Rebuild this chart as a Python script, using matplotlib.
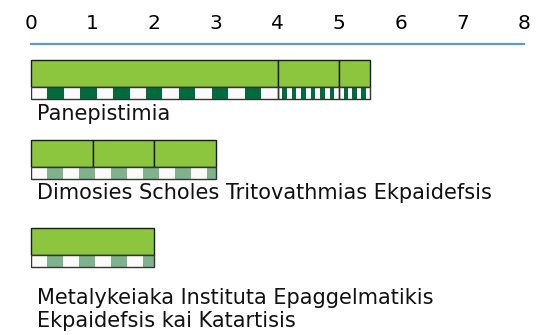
import numpy as np
import matplotlib.pyplot as plt

# Данные: названия и длины сегментов полос
categories = ['Panepistimia',
              'Dimosies Scholes Tritovathmias Ekpaidefsis',
              'Metalykeiaka Instituta Epaggelmatikis\nEkpaidefsis kai Katartisis']
segments = [[4, 1, 0.5], [1, 1, 1], [2]]
# число клеток полосатой ленты в каждом сегменте (None = общая ширина клетки)
strip_cells = [[15, 13, 7], None, None]
strip_cell_width = 0.26
strip_colors = ['#006b3c', '#7fb38e', '#7fb38e']
ticks = [0, 1, 2, 3, 4, 5, 6, 7, 8]

# вертикальная разметка (в пикселях от верха)
bar_tops = [60, 140, 228]
green_h = 27
strip_h = 12
label_y = [114, 193, 309.5]

fig = plt.figure(figsize=(5.46, 3.35), dpi=100)
ax = fig.add_axes([31 / 546, 0, 493 / 546, (335 - 44) / 335])
ax.set_xlim(0, 8)
ax.set_ylim(335, 44)

for s in ['left', 'right', 'bottom']:
    ax.spines[s].set_visible(False)
ax.spines['top'].set_color('#5b9bd5')
ax.spines['top'].set_linewidth(1.6)
ax.xaxis.tick_top()
ax.set_xticks(ticks)
ax.set_xticklabels([str(t) for t in ticks])
ax.tick_params(axis='x', length=0, pad=8, labelsize=14.5, colors='black')
ax.set_yticks([])

for i, segs in enumerate(segments):
    top = bar_tops[i]
    total = sum(segs)
    # зелёные сегменты
    left = 0
    for w in segs:
        ax.barh(top + green_h / 2, w, left=left, height=green_h,
                color='#8cc63f', edgecolor='#1a1a1a', linewidth=1, clip_on=False)
        left += w
    # полосатая лента
    ys = top + green_h + strip_h / 2
    if strip_cells[i] is not None:
        left = 0
        for w, n in zip(segs, strip_cells[i]):
            cw = w / n
            for k in range(n):
                c = '#fafafa' if k % 2 == 0 else strip_colors[i]
                ax.barh(ys, cw, left=left + k * cw, height=strip_h, color=c, linewidth=0)
            left += w
        left = 0
        for w in segs:
            ax.barh(ys, w, left=left, height=strip_h, fill=False,
                    edgecolor='#333333', linewidth=1)
            left += w
    else:
        n = int(np.ceil(total / strip_cell_width))
        for k in range(n):
            cw = min(strip_cell_width, total - k * strip_cell_width)
            c = '#fafafa' if k % 2 == 0 else strip_colors[i]
            ax.barh(ys, cw, left=k * strip_cell_width, height=strip_h, color=c, linewidth=0)
        ax.barh(ys, total, left=0, height=strip_h, fill=False,
                edgecolor='#333333', linewidth=1)
    ax.text(0.1, label_y[i], categories[i], fontsize=15, va='center', ha='left',
            linespacing=1.15, color='#111111')

fig.savefig('out.png', dpi=100)
